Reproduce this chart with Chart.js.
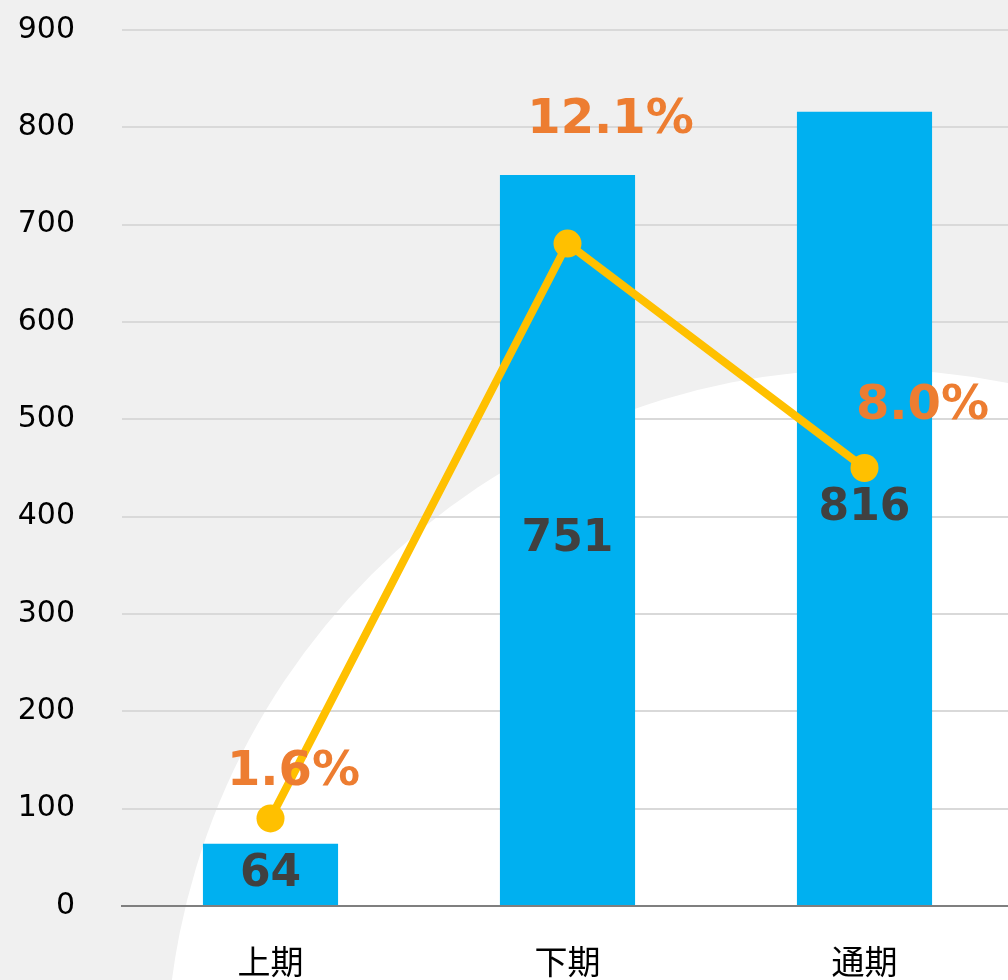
<!DOCTYPE html>
<html>
<head>
<meta charset="utf-8">
<script src="https://cdn.jsdelivr.net/npm/chart.js@4.4.1/dist/chart.umd.min.js"></script>
<style>
  html, body { margin: 0; padding: 0; overflow: hidden; background: #f0f0f0; }
  canvas { display: block; }
</style>
</head>
<body>
<canvas id="combo" width="1013" height="980"></canvas>
<script>
// data
const periods = ['上期', '下期', '通期'];
const amounts = [64, 751, 816];
const growthRates = [1.6, 12.1, 8.0];
const amountTicks = [0, 100, 200, 300, 400, 500, 600, 700, 800, 900];

// where the % labels sit relative to their point (px)
const pctLabelOffsets = [[23, -46], [43, -123], [58, -61]];

// gray page with a big white circle in the lower right
const backdrop = {
  id: 'backdrop',
  beforeDraw(chart) {
    const ctx = chart.ctx;
    ctx.save();
    ctx.fillStyle = '#f0f0f0';
    ctx.fillRect(0, 0, chart.width, chart.height);
    ctx.fillStyle = '#ffffff';
    ctx.beginPath();
    ctx.arc(868, 1071, 702, 0, Math.PI * 2);
    ctx.fill();
    ctx.restore();
  }
};

const valueLabels = {
  id: 'valueLabels',
  afterDatasetsDraw(chart) {
    const ctx = chart.ctx;
    ctx.save();
    ctx.textAlign = 'center';
    ctx.textBaseline = 'middle';

    // bar values, centred in each bar (dataset 1 = bars)
    ctx.font = 'bold 44px "DejaVu Sans"';
    ctx.fillStyle = '#404040';
    chart.getDatasetMeta(1).data.forEach((bar, i) => {
      ctx.fillText(String(amounts[i]), bar.x, (bar.y + bar.base) / 2);
    });

    // growth % (dataset 0 = line)
    ctx.font = 'bold 48px "DejaVu Sans"';
    ctx.fillStyle = '#ed7d31';
    chart.getDatasetMeta(0).data.forEach((pt, i) => {
      const off = pctLabelOffsets[i];
      ctx.fillText(growthRates[i].toFixed(1) + '%', pt.x + off[0], pt.y + off[1]);
    });
    ctx.restore();
  }
};

new Chart(document.getElementById('combo').getContext('2d'), {
  data: {
    labels: periods,
    datasets: [
      {
        type: 'line',
        data: growthRates,
        yAxisID: 'y1',
        borderColor: '#ffc000',
        backgroundColor: '#ffc000',
        borderWidth: 8,
        pointRadius: 14,
        pointHoverRadius: 14,
        pointBorderWidth: 0,
        tension: 0,
        order: 0
      },
      {
        type: 'bar',
        data: amounts,
        yAxisID: 'y',
        backgroundColor: '#00b0f0',
        categoryPercentage: 1,
        barPercentage: 0.455,
        order: 1
      }
    ]
  },
  options: {
    responsive: false,
    animation: false,
    layout: { autoPadding: false, padding: { top: 30, right: 0, bottom: 0, left: 0 } },
    plugins: {
      legend: { display: false },
      tooltip: { enabled: false }
    },
    scales: {
      x: {
        afterFit(scale) {
          scale.height = 74;
          scale.paddingLeft = 0;
          scale.paddingRight = 0;
        },
        grid: { display: true, color: 'rgba(0,0,0,0)', drawTicks: true, tickLength: 36, tickColor: 'rgba(0,0,0,0)' },
        border: { display: true, color: '#7f7f7f', width: 2 },
        ticks: {
          color: '#000000',
          padding: 0,
          font: { family: '"Noto Sans CJK JP"', size: 33 }
        }
      },
      y: {
        min: 0,
        max: 900,
        afterFit(scale) { scale.width = 122; },
        afterBuildTicks(scale) { scale.ticks = amountTicks.map(v => ({ value: v })); },
        grid: { color: '#d9d9d9', lineWidth: 2, drawTicks: true, tickLength: 47, tickColor: 'rgba(0,0,0,0)' },
        border: { display: false },
        ticks: {
          color: '#000000',
          padding: 0,
          font: { family: '"DejaVu Sans"', size: 30 }
        }
      },
      y1: {
        display: false,
        min: 0,
        max: 16
      }
    }
  },
  plugins: [backdrop, valueLabels]
});
</script>
</body>
</html>
